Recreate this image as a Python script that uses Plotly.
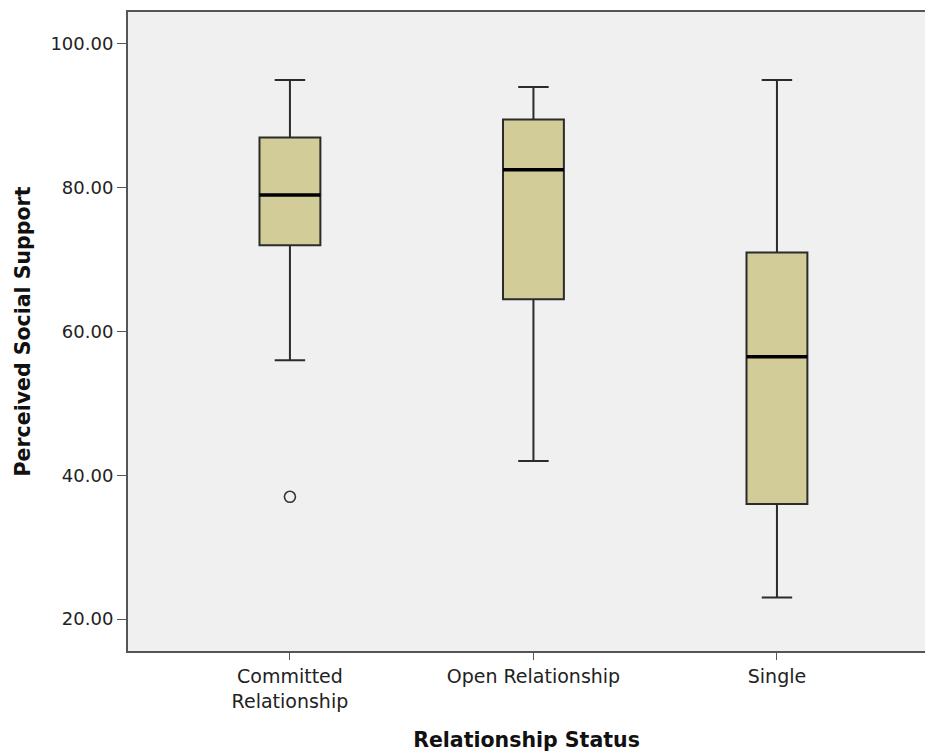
import plotly.graph_objects as go

categories = ["Committed<br>Relationship", "Open Relationship", "Single"]
upper_whisker = [95, 94, 95]
q3 = [87, 89.5, 71]
median = [79, 82.5, 56.5]
q1 = [72, 64.5, 36]
lower_whisker = [56, 42, 23]
outlier_cat = ["Committed<br>Relationship"]
outlier_val = [37]

tick_vals = [20, 40, 60, 80, 100]
tick_text = ["20.00", "40.00", "60.00", "80.00", "100.00"]

FONT = "DejaVu Sans"
BOX_W = 0.25

fig = go.Figure()
fig.add_trace(go.Box(
    x=categories,
    q1=q1, median=median, q3=q3,
    lowerfence=lower_whisker, upperfence=upper_whisker,
    fillcolor="#D2CD98",
    line=dict(color="#2b2b2b", width=2),
    whiskerwidth=0.5,
    width=BOX_W,
    boxpoints=False,
    showlegend=False,
    hoverinfo="skip",
))
fig.add_trace(go.Scatter(
    x=outlier_cat, y=outlier_val, mode="markers",
    marker=dict(symbol="circle-open", size=11, color="#333333",
                line=dict(width=1.6, color="#333333")),
    showlegend=False,
))

# thicker median lines
for i, m in enumerate(median):
    fig.add_shape(type="line", xref="x", yref="y",
                  x0=i - BOX_W / 2, x1=i + BOX_W / 2, y0=m, y1=m,
                  line=dict(color="black", width=3.5))

fig.update_layout(
    width=925, height=753,
    margin=dict(l=128, r=0, t=12, b=102),
    paper_bgcolor="white",
    plot_bgcolor="#F0F0F0",
    font=dict(family=FONT, size=19, color="#222222"),
    xaxis=dict(
        type="category",
        range=[-0.665, 2.608],
        showline=True, linecolor="#555555", linewidth=2, mirror=True,
        ticks="outside", ticklen=7, tickcolor="#555555",
        showgrid=False, zeroline=False,
        tickfont=dict(family=FONT, size=19, color="#222222"),
        title=dict(text="<b>Relationship Status</b>", font=dict(family=FONT, size=20.5, color="#111111"),
                   standoff=22),
    ),
    yaxis=dict(
        range=[15.55, 104.45],
        tickvals=tick_vals, ticktext=tick_text,
        showline=True, linecolor="#555555", linewidth=2,
        ticks="outside", ticklen=9, tickcolor="#555555",
        showgrid=False, zeroline=False,
        tickfont=dict(family=FONT, size=18, color="#222222"),
        title=dict(text="<b>Perceived Social Support</b>", font=dict(family=FONT, size=20.5, color="#111111"),
                   standoff=14),
    ),
)

fig.write_html(
    "out.html",
    config={"displayModeBar": False},
    post_script="document.body.style.margin='0';document.body.style.overflow='hidden';",
)
